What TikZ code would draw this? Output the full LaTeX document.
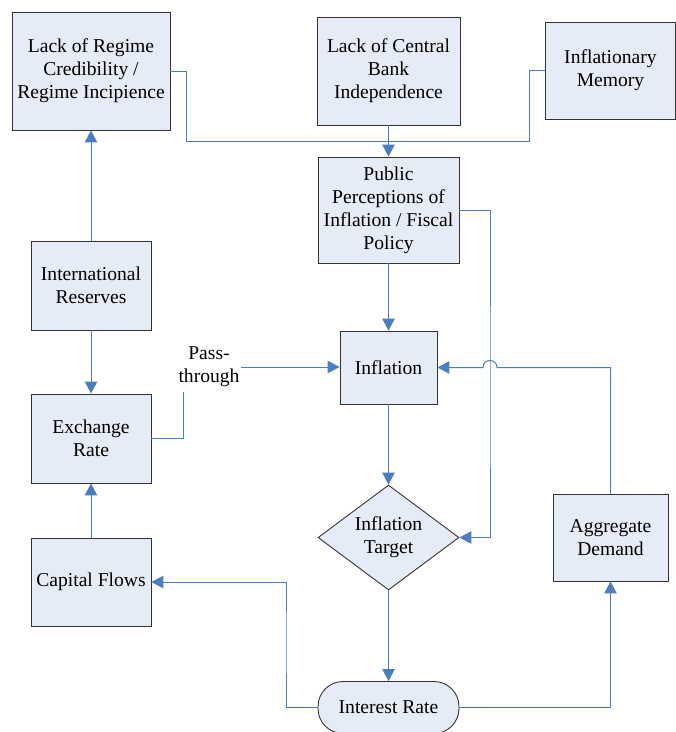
\documentclass[tikz,border=0pt]{standalone}
\usepackage{fontspec}
\setmainfont{Liberation Serif}
\usetikzlibrary{shapes.geometric,arrows.meta}
\definecolor{boxfill}{RGB}{230,236,247}
\definecolor{linkblue}{RGB}{74,126,193}

\begin{document}
\begin{tikzpicture}[x=1pt,y=-1pt]
\tikzstyle{every node}+=[inner sep=0pt,font=\fontsize{19.6}{23}\selectfont]
\tikzstyle{box}=[draw=black!80,fill=boxfill,line width=0.9pt,align=center]
\tikzstyle{link}=[linkblue,line width=1pt]
\tikzstyle{arr}=[link,-{Triangle[length=12pt,width=12.5pt]}]
\useasboundingbox (0,0) rectangle (676,732);
\node [box,minimum width=158pt,minimum height=118pt] (regime) at (91,71) {Lack of Regime\\Credibility /\\Regime Incipience};
\node [box,minimum width=143pt,minimum height=108pt] (cbi) at (388.5,71) {Lack of Central\\Bank\\Independence};
\node [box,minimum width=130pt,minimum height=97pt] (memory) at (610.5,70.5) {Inflationary\\Memory};
\node [box,minimum width=141pt,minimum height=106pt] (public) at (388.5,210) {Public\\Perceptions of\\Inflation / Fiscal\\Policy};
\node [box,minimum width=120pt,minimum height=89pt] (reserves) at (91,285.5) {International\\Reserves};
\node [box,minimum width=97pt,minimum height=73pt] (inflation) at (388.5,367.5) {Inflation};
\node [box,minimum width=120pt,minimum height=89pt] (exchange) at (91,438.5) {Exchange\\Rate};
\node [box,diamond,aspect=1.34,minimum width=141pt,minimum height=105pt] (target) at (388.5,537.5) {Inflation\\Target};
\node [box,minimum width=115pt,minimum height=87pt] (demand) at (610.5,537.5) {Aggregate\\Demand};
\node [box,minimum width=120pt,minimum height=88pt] (capital) at (91,582) {Capital Flows};
\node [box,rounded corners=25pt,minimum width=141pt,minimum height=52pt] (interest) at (388.5,707.5) {Interest Rate};
\node [align=center,inner sep=1pt] (pass) at (209,367) {Pass-\\through};
\coordinate (busL) at (186,141);
\coordinate (busR) at (529,141);
\coordinate (passfoot) at (183,392);
\coordinate (rail) at (490,400);
\coordinate (leftrail) at (286,640);
\coordinate (hopR) at (497,367.5);
\draw [link] (regime.east) -| (busL) -- (busR) |- (memory.west);
\draw [arr] (cbi.south) -- (public.north);
\draw [arr] (reserves.north) -- (regime.south);
\draw [arr] (reserves.south) -- (exchange.north);
\draw [arr] (capital.north) -- (exchange.south);
\draw [link] (exchange.east) -| (passfoot);
\draw [arr] (pass.east) -- (pass.east -| inflation.west);
\draw [arr] (public.south) -- (inflation.north);
\draw [arr] (public.east) -| (rail) |- (target.east);
\draw [arr] (inflation.south) -- (target.north);
\draw [arr] (target.south) -- (interest.north);
\draw [arr] (interest.west) -| (leftrail) |- (capital.east);
\draw [arr] (interest.east) -| (demand.south);
\draw [arr] (demand.north) |- (hopR) .. controls (497,358.2) and (483,358.2) .. (483,367.5) -- (inflation.east);
\end{tikzpicture}
\end{document}
